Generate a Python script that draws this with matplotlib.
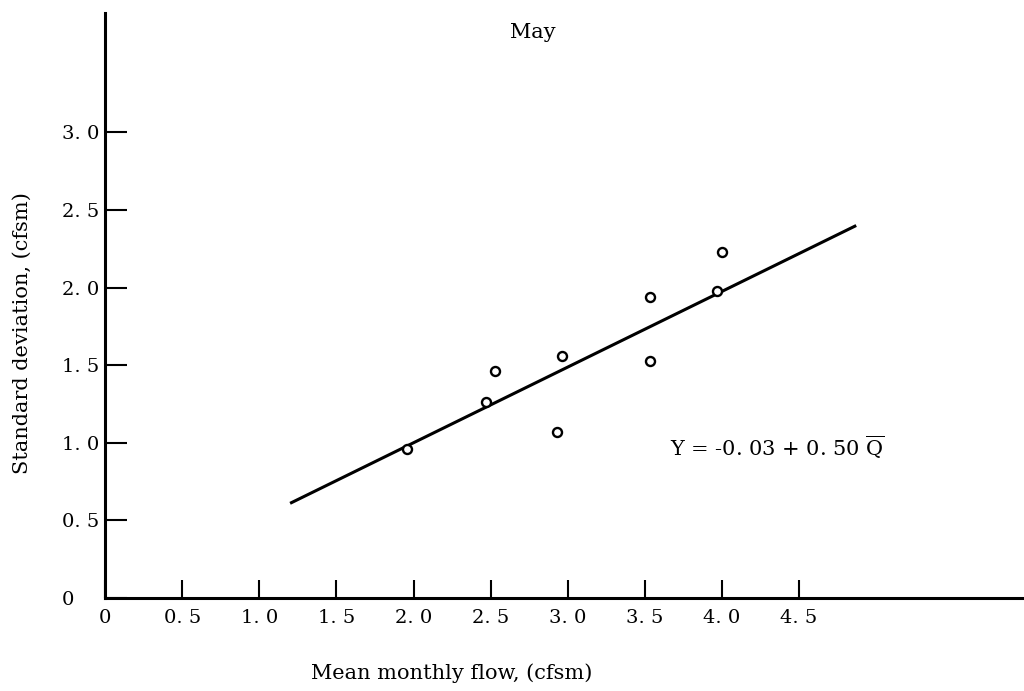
import matplotlib
matplotlib.use("Agg")
import matplotlib.pyplot as plt

# Data
mean_flow = [1.96, 2.47, 2.53, 2.93, 2.96, 3.53, 3.53, 3.97, 4.00]
std_dev = [0.96, 1.26, 1.46, 1.07, 1.56, 1.94, 1.53, 1.98, 2.23]

# Regression line endpoints as drawn
line_x = [1.20, 4.87]
line_y = [0.61, 2.40]

x_ticks = [0, 0.5, 1.0, 1.5, 2.0, 2.5, 3.0, 3.5, 4.0, 4.5]
x_tick_labels = ["0", "0. 5", "1. 0", "1. 5", "2. 0", "2. 5", "3. 0", "3. 5", "4. 0", "4. 5"]
y_ticks = [0, 0.5, 1.0, 1.5, 2.0, 2.5, 3.0]
y_tick_labels = ["0", "0. 5", "1. 0", "1. 5", "2. 0", "2. 5", "3. 0"]

title = "May"
x_label = "Mean monthly flow, (cfsm)"
y_label = "Standard deviation, (cfsm)"
equation = r"Y = -0. 03 + 0. 50 $\overline{\mathrm{Q}}$"

plt.rcParams['font.family'] = ['DejaVu Serif']
plt.rcParams['mathtext.fontset'] = 'dejavuserif'

W, H = 1024, 691
fig = plt.figure(figsize=(W / 100, H / 100), dpi=100)
x0_px, y0_px = 105, 598
ax = fig.add_axes([x0_px / W, (H - y0_px) / H, 1 - x0_px / W, (y0_px - 13) / H])

ax.set_xlim(0, (W - x0_px) / 154.25)
ax.set_ylim(0, (y0_px - 13) / 155.2)

for s in ['top', 'right']:
    ax.spines[s].set_visible(False)
for s in ['left', 'bottom']:
    ax.spines[s].set_linewidth(2.2)
    ax.spines[s].set_color('black')

ax.plot(line_x, line_y, color='black', lw=2.2, solid_capstyle='butt')
ax.plot(mean_flow, std_dev, linestyle='none', marker='o', markersize=6.5,
        markerfacecolor='white', markeredgecolor='black', markeredgewidth=1.7)

ax.set_xticks(x_ticks)
ax.set_xticklabels(x_tick_labels)
ax.set_yticks(y_ticks)
ax.set_yticklabels(y_tick_labels, ha='left')

ax.tick_params(axis='x', direction='in', length=13, width=1.5, pad=8, labelsize=14)
ax.tick_params(axis='y', direction='in', length=16, width=1.5, pad=31, labelsize=14)
ax.xaxis.set_ticks_position('bottom')
ax.yaxis.set_ticks_position('left')

ax.text(3.66, 0.97, equation, fontsize=15, ha='left', va='center')

fig.text(533 / W, 1 - 33 / H, title, fontsize=15, ha='center', va='center')
fig.text(452 / W, 1 - 673 / H, x_label, fontsize=15, ha='center', va='center')
fig.text(22 / W, 1 - 333 / H, y_label, fontsize=15, ha='center', va='center', rotation=90)

fig.savefig("out.png", dpi=100)
